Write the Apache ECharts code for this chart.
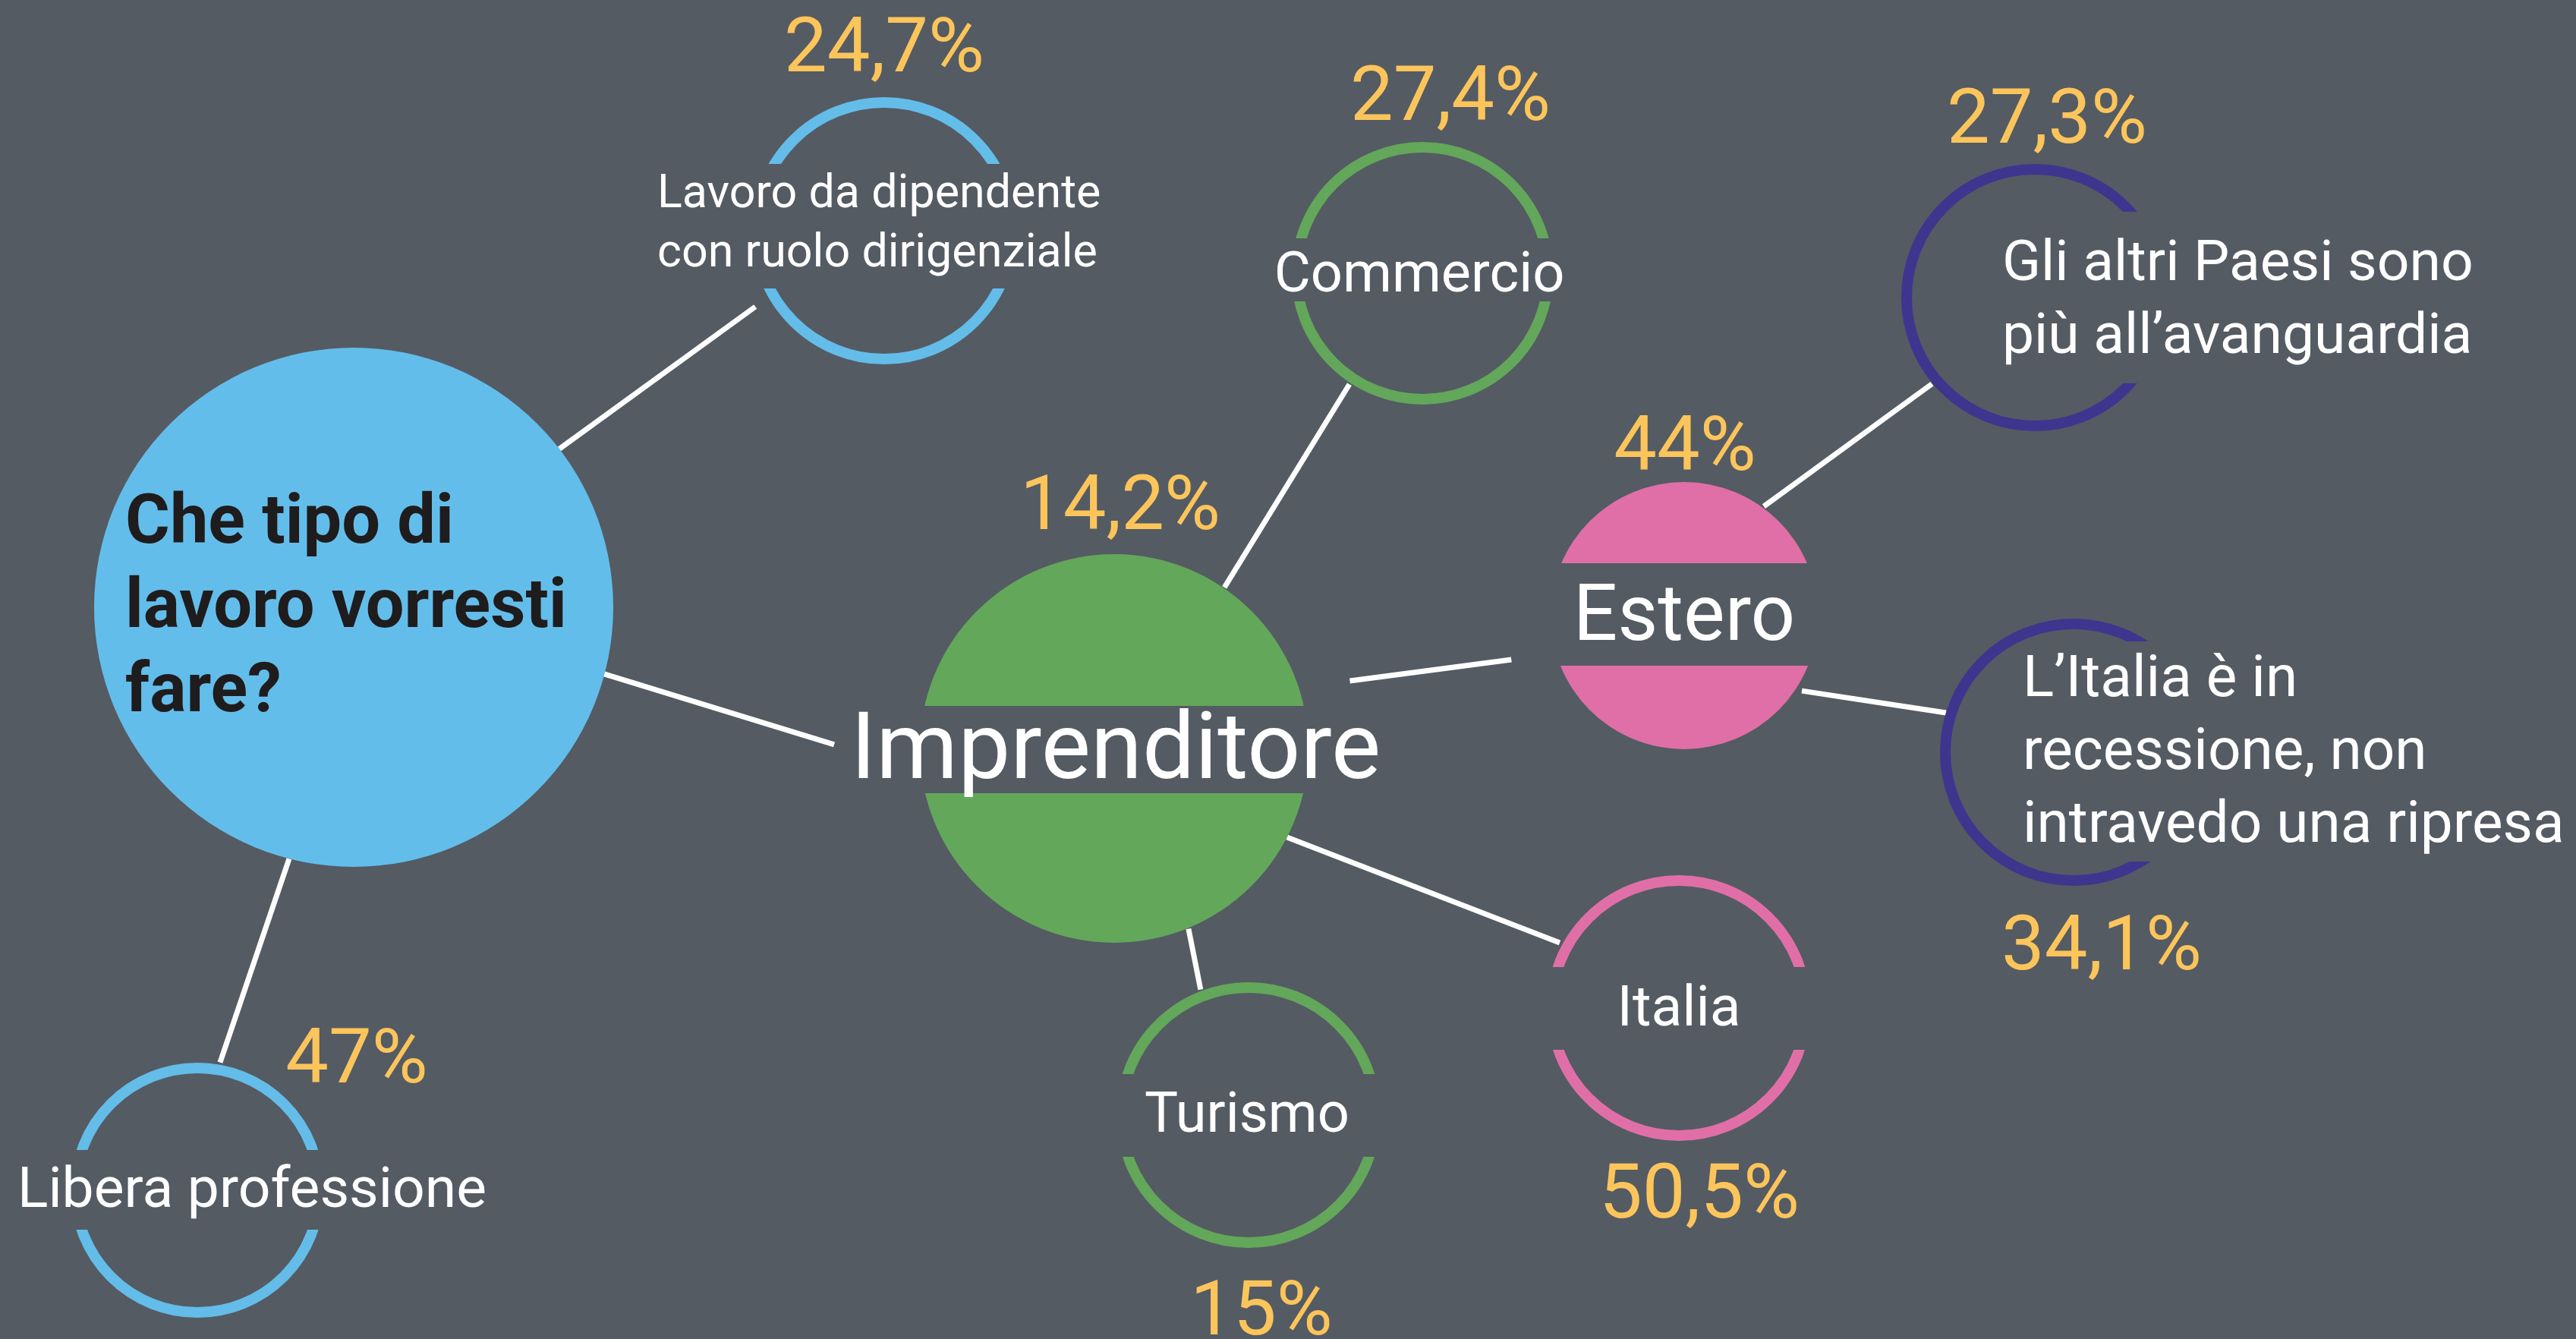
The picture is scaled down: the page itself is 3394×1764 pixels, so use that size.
<!DOCTYPE html>
<html>
<head>
<meta charset="utf-8">
<script src="https://cdn.jsdelivr.net/npm/echarts@6/dist/echarts.min.js"></script>
<style>
  html, body { margin: 0; padding: 0; background: #545b63; }
  #chart { width: 3394px; height: 1764px; }
</style>
</head>
<body>
<div id="chart"></div>
<script>
// ---- data -----------------------------------------------------------------
const nodeLabels = [
  "Che tipo di\nlavoro vorresti\nfare?",
  "Lavoro da dipendente\ncon ruolo dirigenziale",
  "Libera professione",
  "Imprenditore",
  "Commercio",
  "Turismo",
  "Italia",
  "Estero",
  "Gli altri Paesi sono\npiù all\u2019avanguardia",
  "L\u2019Italia è in\nrecessione, non\nintravedo una ripresa",
];
const nodeShares = [null, 24.7, 47, 14.2, 27.4, 15, 50.5, 44, 27.3, 34.1];
const nodeGroups = ["question", "blue", "blue", "green", "green", "green", "pink", "pink", "purple", "purple"];
// parent -> child
const links = [[0, 1], [0, 2], [0, 3], [3, 4], [3, 5], [3, 6], [3, 7], [7, 8], [7, 9]];

// ---- layout (canvas units, y down) -----------------------------------------
const nodeX = [466, 1165, 260, 1468, 1874, 1645, 2212, 2219, 2681, 2732];
const nodeY = [800, 304, 1568, 986, 360, 1469, 1328, 811, 392, 991];
// r: outer radius, band: text stripe [top, bottom] from centre, t*: label offset, p*: percent offset
const nodeLayout = [
  { r: 342, solid: true, size: 90, bold: true, align: "left", lh: 111, tdx: -301, tdy: -6 },
  { r: 176, band: [-88, 76], size: 61, align: "left", lh: 78, tdx: -299, tdy: -14, pdx: 0, pdy: -246 },
  { r: 168, band: [-53, 52], size: 75, align: "center", tdx: 72, tdy: -5, pdx: 210, pdy: -178 },
  { r: 256, solid: true, band: [-56, 59], size: 123, align: "center", tdx: 2, tdy: -5, pdx: 8, pdy: -325 },
  { r: 173, band: [-46, 37], size: 74, align: "center", tdx: -4, tdy: -3, pdx: 37, pdy: -238 },
  { r: 175, band: [-54, 55], size: 74, align: "center", tdx: -2, tdy: -5, pdx: 17, pdy: 253 },
  { r: 175, band: [-54, 55], size: 75, align: "center", tdx: 0, tdy: -4, pdx: 27, pdy: 240 },
  { r: 176, solid: true, band: [-69, 66], size: 103, align: "center", tdx: 0, tdy: -5, pdx: 1, pdy: -228 },
  { r: 176, band: [-113, 113], half: true, size: 75, align: "left", lh: 96, tdx: -43, tdy: -2, pdx: 16, pdy: -240 },
  { r: 176, band: [-146, 144], half: true, size: 76.5, align: "left", lh: 96, tdx: -67, tdy: -6, pdx: 37, pdy: 250 },
];
// where each connector leaves / meets its nodes: [angleFrom, distFrom, angleTo, distTo]
const linkAnchors = [
  [-37.6, 342, 149.5, 197],
  [104.4, 342, -79.9, 171],
  [14.9, 339, 180.8, 369],
  [-55.6, 257, 123.3, 175],
  [67.6, 257, -110.9, 177],
  [27.2, 256, -151.3, 179],
  [-16, 323, 165.7, 235],
  [-53.9, 178, 140, 177],
  [32.6, 184, -162.8, 176],
];

const BG = "#545b63";
const groupColor = {
  question: "#63bdea",
  blue: "#64bce9",
  green: "#63a75a",
  pink: "#e06fa8",
  purple: "#3e358f",
};
const PCT = "#fcc55b";
const PCT_SIZE = 101;
const RING = 14;
const FONT = "Roboto, 'Noto Sans', sans-serif";
const BASE_SHIFT = 0.11; // canvas 'middle' sits above the cap centre

const fmtPct = (v) => String(v).replace(".", ",") + "%";

function anchorPoint(n, angle, dist) {
  const a = (angle * Math.PI) / 180;
  return [nodeX[n] + dist * Math.cos(a), nodeY[n] + dist * Math.sin(a)];
}

function renderLink(params, api) {
  const [from, to] = links[params.dataIndex];
  const an = linkAnchors[params.dataIndex];
  const p1 = api.coord(anchorPoint(from, an[0], an[1]));
  const p2 = api.coord(anchorPoint(to, an[2], an[3]));
  return {
    type: "line",
    shape: { x1: p1[0], y1: p1[1], x2: p2[0], y2: p2[1] },
    style: { stroke: "#ffffff", lineWidth: 7 },
  };
}

function renderNode(params, api) {
  const i = params.dataIndex;
  const L = nodeLayout[i];
  const c = api.coord([api.value(0), api.value(1)]);
  const k = api.size([1, 1])[0];
  const col = groupColor[nodeGroups[i]];
  const r = L.r * k;
  const kids = [];

  if (L.solid) {
    kids.push({ type: "circle", shape: { cx: c[0], cy: c[1], r: r }, style: { fill: col } });
  } else {
    kids.push({
      type: "circle",
      shape: { cx: c[0], cy: c[1], r: r - RING / 2 },
      style: { fill: "none", stroke: col, lineWidth: RING },
    });
  }
  if (L.band) {
    const x0 = L.half ? c[0] : c[0] - r - 6;
    const w = L.half ? r + 6 : 2 * r + 12;
    kids.push({
      type: "rect",
      shape: { x: x0, y: c[1] + L.band[0] * k, width: w, height: (L.band[1] - L.band[0]) * k },
      style: { fill: BG },
    });
  }
  kids.push({
    type: "text",
    x: c[0] + L.tdx * k,
    y: c[1] + (L.tdy + BASE_SHIFT * L.size) * k,
    style: {
      text: nodeLabels[i],
      fill: i === 0 ? "#1f1c1d" : "#ffffff",
      fontFamily: FONT,
      fontSize: L.size * k,
      fontWeight: L.bold ? "bold" : "normal",
      lineHeight: (L.lh || L.size * 1.2) * k,
      align: L.align,
      verticalAlign: "middle",
    },
  });
  if (nodeShares[i] != null) {
    kids.push({
      type: "text",
      x: c[0] + L.pdx * k,
      y: c[1] + (L.pdy + BASE_SHIFT * PCT_SIZE) * k,
      style: {
        text: fmtPct(nodeShares[i]),
        fill: PCT,
        fontFamily: FONT,
        fontSize: PCT_SIZE * k,
        align: "center",
        verticalAlign: "middle",
      },
    });
  }
  return { type: "group", children: kids };
}

const chart = echarts.init(document.getElementById("chart"), null, { width: 3394, height: 1764 });

const option = {
  backgroundColor: BG,
  animation: false,
  grid: { left: 0, right: 0, top: 0, bottom: 0 },
  xAxis: { type: "value", min: 0, max: 3394, show: false },
  yAxis: { type: "value", min: 0, max: 1764, inverse: true, show: false },
  series: [
    {
      type: "custom",
      name: "links",
      silent: true,
      z: 1,
      renderItem: renderLink,
      data: links.map((l) => l[0]),
    },
    {
      type: "custom",
      name: "nodes",
      silent: true,
      z: 2,
      renderItem: renderNode,
      data: nodeX.map((x, i) => [x, nodeY[i]]),
    },
  ],
};

chart.setOption(option);
</script>
</body>
</html>
